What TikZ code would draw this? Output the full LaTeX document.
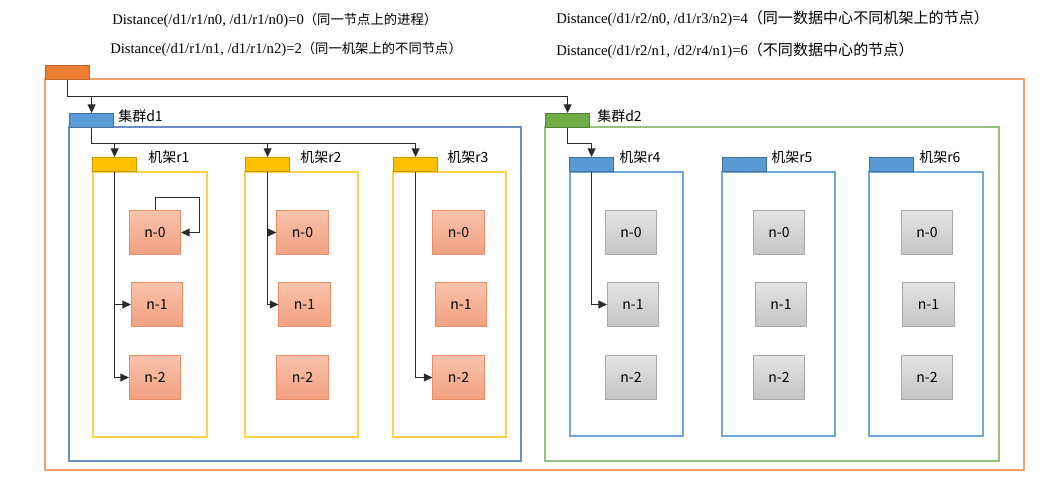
\documentclass[tikz,border=0pt]{standalone}
\usepackage{fontspec}
\setmainfont{Liberation Serif}
\newfontfamily\cjk{Noto Sans CJK SC}
\usepackage{tikz}
\usetikzlibrary{arrows.meta, positioning, calc}
\definecolor{dcorange}{HTML}{ED7D31}
\definecolor{dcline}{HTML}{F2A06A}
\definecolor{tabblue}{HTML}{5B9BD5}
\definecolor{tabblueline}{HTML}{41719C}
\definecolor{clusterblue}{HTML}{6C8EBF}
\definecolor{rackblue}{HTML}{6FA8DC}
\definecolor{tabgreen}{HTML}{70AD47}
\definecolor{tabgreenline}{HTML}{548235}
\definecolor{clustergreen}{HTML}{97C27B}
\definecolor{tabyellow}{HTML}{FFC000}
\definecolor{tabyellowline}{HTML}{C99A00}
\definecolor{rackyellow}{HTML}{FFD24D}
\definecolor{salmontop}{HTML}{F8C3AB}
\definecolor{salmonbot}{HTML}{F2A07F}
\definecolor{salmonline}{HTML}{E98E67}
\definecolor{graytop}{HTML}{E4E4E4}
\definecolor{graybot}{HTML}{C4C4C4}
\definecolor{grayline}{HTML}{A8A8A8}
\definecolor{linkgray}{HTML}{2B2B2B}
\newcommand{\zh}[2][10]{{\cjk\fontsize{#1}{13}\selectfont #2}}

\begin{document}
\begin{tikzpicture}[
    x=0.75pt, y=-0.75pt,
    tabbox/.style={draw, line width=0.9pt, minimum width=33pt, minimum height=10.5pt, inner sep=0pt, anchor=north west},
    frame/.style={line width=0.9pt},
    hot/.style={draw=salmonline, top color=salmontop, bottom color=salmonbot, line width=0.6pt, minimum width=38.5pt, minimum height=33pt, inner sep=0pt, font=\cjk\fontsize{10.5}{12}\selectfont},
    cold/.style={draw=grayline, top color=graytop, bottom color=graybot, line width=0.6pt, minimum width=38.5pt, minimum height=33pt, inner sep=0pt, font=\cjk\fontsize{10.5}{12}\selectfont},
    lbl/.style={font=\cjk\fontsize{10.5}{12}\selectfont, anchor=west, inner sep=0pt},
    note/.style={font=\fontsize{11}{13}\selectfont, anchor=west, inner sep=0pt},
    link/.style={-{Triangle[length=6.5pt,width=6pt]}, line width=0.75pt, color=linkgray},
]
\useasboundingbox (0,0) rectangle (1064,482);

% Distance notes
\node[note] (t1) at (112,20) {Distance(/d1/r1/n0, /d1/r1/n0)=0\zh{（同一节点上的进程）}};
\node[note] (t2) at (110,49) {Distance(/d1/r1/n1, /d1/r1/n2)=2\zh{（同一机架上的不同节点）}};
\node[note] (t3) at (556,19) {Distance(/d1/r2/n0, /d1/r3/n2)=4\zh[11.3]{（同一数据中心不同机架上的节点）}};
\node[note] (t4) at (556,51) {Distance(/d1/r2/n1, /d2/r4/n1)=6\zh[11.3]{（不同数据中心的节点）}};

% Frames
\draw[frame, draw=dcline] (45,79) rectangle (1024,470);
\draw[frame, draw=clusterblue] (69,127) rectangle (521,461);
\draw[frame, draw=clustergreen] (545,127) rectangle (999,461);
\draw[frame, draw=rackyellow] (93,172) rectangle (207,437);
\draw[frame, draw=rackyellow] (245,172) rectangle (358,437);
\draw[frame, draw=rackyellow] (393,172) rectangle (506,437);
\draw[frame, draw=rackblue] (570,172) rectangle (683,436);
\draw[frame, draw=rackblue] (722,172) rectangle (835,436);
\draw[frame, draw=rackblue] (869,172) rectangle (983,436);

% Tabs
\node[tabbox, draw=dcorange!80!black, fill=dcorange] (dc) at (45,65) {};
\node[tabbox, draw=tabblueline, fill=tabblue] (d1tab) at (69,113) {};
\node[tabbox, draw=tabgreenline, fill=tabgreen] (d2tab) at (545,113) {};
\node[tabbox, draw=tabyellowline, fill=tabyellow] (r1tab) at (92,157) {};
\node[tabbox, draw=tabyellowline, fill=tabyellow] (r2tab) at (245,157) {};
\node[tabbox, draw=tabyellowline, fill=tabyellow] (r3tab) at (393,157) {};
\node[tabbox, draw=tabblueline, fill=tabblue] (r4tab) at (569,157) {};
\node[tabbox, draw=tabblueline, fill=tabblue] (r5tab) at (722,157) {};
\node[tabbox, draw=tabblueline, fill=tabblue] (r6tab) at (869,157) {};

% Tab labels
\node[lbl] (d1lbl) at (118,116) {集群d1};
\node[lbl] (d2lbl) at (597,116) {集群d2};
\node[lbl] (r1lbl) at (148,157) {机架r1};
\node[lbl] (r2lbl) at (300,157) {机架r2};
\node[lbl] (r3lbl) at (447,157) {机架r3};
\node[lbl] (r4lbl) at (619,157) {机架r4};
\node[lbl] (r5lbl) at (771,157) {机架r5};
\node[lbl] (r6lbl) at (919,157) {机架r6};

% Nodes in cluster d1
\node[hot] (r1n0) at (155,232.5) {n-0};
\node[hot] (r1n1) at (157,304.5) {n-1};
\node[hot] (r1n2) at (155,377.5) {n-2};
\node[hot] (r2n0) at (302.5,232.5) {n-0};
\node[hot] (r2n1) at (304.5,304.5) {n-1};
\node[hot] (r2n2) at (302.5,377.5) {n-2};
\node[hot] (r3n0) at (458.5,232.5) {n-0};
\node[hot] (r3n1) at (461,304.5) {n-1};
\node[hot] (r3n2) at (458.5,377.5) {n-2};

% Nodes in cluster d2
\node[cold] (r4n0) at (631,232.5) {n-0};
\node[cold] (r4n1) at (633,304.5) {n-1};
\node[cold] (r4n2) at (631,377.5) {n-2};
\node[cold] (r5n0) at (779,232.5) {n-0};
\node[cold] (r5n1) at (781,304.5) {n-1};
\node[cold] (r5n2) at (779,377) {n-2};
\node[cold] (r6n0) at (927,232.5) {n-0};
\node[cold] (r6n1) at (928.5,304.5) {n-1};
\node[cold] (r6n2) at (927,377) {n-2};

% Links from data center to clusters
\draw[link] (dc.south) -- ++(0,16) -| (d1tab.north);
\draw[link] (dc.south) -- ++(0,16) -| (d2tab.north);

% Links from clusters to racks
\draw[link] (d1tab.south) -- ++(0,15) -| (r1tab.north);
\draw[link] (d1tab.south) -- ++(0,15) -| (r2tab.north);
\draw[link] (d1tab.south) -- ++(0,15) -| (r3tab.north);
\draw[link] (d2tab.south) -- ++(0,15) -| (r4tab.north);

% Links from racks to nodes
\draw[link] (r1tab.south) |- (r1n1.west);
\draw[link] (r1tab.south) |- (r1n2.west);
\draw[link] (r1n0.north) -- ++(0,-13) -| ([xshift=13.5pt]r1n0.east) -- (r1n0.east);
\draw[link] (r2tab.south) |- (r2n0.west);
\draw[link] (r2tab.south) |- (r2n1.west);
\draw[link] (r3tab.south) |- (r3n2.west);
\draw[link] (r4tab.south) |- (r4n1.west);

\end{tikzpicture}
\end{document}
